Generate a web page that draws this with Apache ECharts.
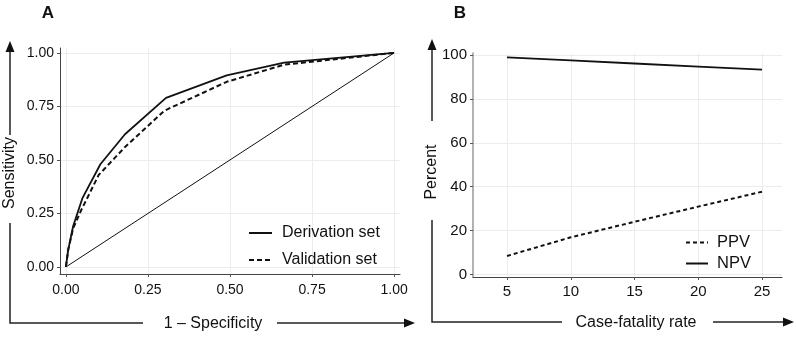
<!DOCTYPE html>
<html>
<head>
<meta charset="utf-8">
<script src="https://cdn.jsdelivr.net/npm/echarts@6/dist/echarts.min.js"></script>
<style>
  html, body { margin: 0; padding: 0; background: #fff; }
  #chart { width: 796px; height: 337px; }
</style>
</head>
<body>
<div id="chart"></div>
<script>
// panel A: ROC curves
const derivX = [0, 0.007, 0.022, 0.05, 0.105, 0.18, 0.305, 0.49, 0.665, 1];
const derivY = [0, 0.08, 0.19, 0.32, 0.48, 0.62, 0.79, 0.895, 0.955, 1];
const validX = [0, 0.007, 0.022, 0.045, 0.1, 0.18, 0.3, 0.49, 0.665, 1];
const validY = [0, 0.08, 0.18, 0.26, 0.43, 0.56, 0.73, 0.865, 0.945, 1];
const diagX = [0, 1];
const diagY = [0, 1];
const rocTicks = [0, 0.25, 0.5, 0.75, 1];

// panel B: predictive values by case-fatality rate
const cfr = [5, 10, 15, 20, 25];
const ppv = [8.4, 16.9, 24.0, 30.9, 37.7];
const npv = [99.0, 97.6, 96.2, 94.8, 93.4];
const cfrTicks = [5, 10, 15, 20, 25];
const pctTicks = [0, 20, 40, 60, 80, 100];

const FONT = 'Liberation Sans, Arial, sans-serif';
const ink = '#111';

function zip(xs, ys) {
  return xs.map(function (x, i) { return [x, ys[i]]; });
}

function fmt2(v) { return v.toFixed(2); }

function valueAxis(gridIndex, min, max, ticks, opts) {
  return Object.assign({
    type: 'value',
    gridIndex: gridIndex,
    min: min,
    max: max,
    axisLine: { show: true, onZero: false, lineStyle: { color: '#444', width: 1 } },
    axisTick: { show: true, length: 3, customValues: ticks, lineStyle: { color: '#555' } },
    axisLabel: { customValues: ticks, color: '#111', fontSize: 14, fontFamily: FONT, margin: 6 },
    splitLine: { show: true, lineStyle: { color: '#ececec', width: 1 } }
  }, opts || {});
}

// arrows along the outer axis titles
function arrowLine(points) {
  return { type: 'polyline', shape: { points: points }, style: { stroke: '#222', lineWidth: 1.5, fill: null }, silent: true };
}
function arrowHead(x, y, dir) {
  let pts;
  if (dir === 'up') pts = [[x, y], [x - 4.5, y + 11], [x + 4.5, y + 11]];
  else pts = [[x, y], [x - 11, y - 4.5], [x - 11, y + 4.5]];
  return { type: 'polygon', shape: { points: pts }, style: { fill: '#111' }, silent: true };
}
function label(text, x, y, rotate, size, weight) {
  return {
    type: 'text', x: x, y: y, rotation: rotate ? Math.PI / 2 : 0,
    style: { text: text, fill: '#111', font: (weight || 'normal') + ' ' + size + 'px ' + FONT, align: 'center', verticalAlign: 'middle' },
    silent: true
  };
}

const option = {
  animation: false,
  backgroundColor: '#fff',
  grid: [
    { left: 60, top: 48, width: 340, height: 226 },
    { left: 473, top: 53, width: 309, height: 224 }
  ],
  xAxis: [
    valueAxis(0, -0.018, 1.018, rocTicks, {
      axisLabel: { customValues: rocTicks, formatter: fmt2, color: '#111', fontSize: 14, fontFamily: FONT, margin: 9 }
    }),
    valueAxis(1, 2.33, 26.57, cfrTicks, {
      axisLabel: { customValues: cfrTicks, color: '#111', fontSize: 15, fontFamily: FONT, margin: 7 }
    })
  ],
  yAxis: [
    valueAxis(0, -0.033, 1.023, rocTicks, {
      axisLabel: { customValues: rocTicks, formatter: fmt2, color: '#111', fontSize: 14, fontFamily: FONT, margin: 6 }
    }),
    valueAxis(1, -1.2, 101, pctTicks, {
      axisLine: { show: true, onZero: false, lineStyle: { color: '#999', width: 1.5 } },
      axisLabel: { customValues: pctTicks, color: '#111', fontSize: 15, fontFamily: FONT, margin: 6 }
    })
  ],
  legend: [
    {
      left: 248, top: 225, padding: 0, orient: 'vertical', itemWidth: 23, itemHeight: 14, itemGap: 11,
      data: ['Derivation set', 'Validation set'],
      itemStyle: { opacity: 0 },
      textStyle: { fontSize: 16, fontFamily: FONT, color: '#111', padding: [0, 0, 0, 5] }
    },
    {
      left: 685, top: 234, padding: 0, orient: 'vertical', itemWidth: 22, itemHeight: 14, itemGap: 4,
      data: ['PPV', 'NPV'],
      itemStyle: { opacity: 0 },
      textStyle: { fontSize: 16.5, fontFamily: FONT, color: '#111', padding: [0, 0, 0, 4] }
    }
  ],
  series: [
    {
      name: 'Derivation set', type: 'line', xAxisIndex: 0, yAxisIndex: 0,
      data: zip(derivX, derivY), symbol: 'none', color: ink,
      lineStyle: { color: ink, width: 1.8 }
    },
    {
      name: 'Validation set', type: 'line', xAxisIndex: 0, yAxisIndex: 0,
      data: zip(validX, validY), symbol: 'none', color: ink,
      lineStyle: { color: ink, width: 2, type: [5, 3] }
    },
    {
      name: 'Reference', type: 'line', xAxisIndex: 0, yAxisIndex: 0,
      data: zip(diagX, diagY), symbol: 'none', color: ink,
      lineStyle: { color: ink, width: 1 }
    },
    {
      name: 'PPV', type: 'line', xAxisIndex: 1, yAxisIndex: 1,
      data: zip(cfr, ppv), symbol: 'none', color: ink,
      lineStyle: { color: ink, width: 2, type: [4, 3] }
    },
    {
      name: 'NPV', type: 'line', xAxisIndex: 1, yAxisIndex: 1,
      data: zip(cfr, npv), symbol: 'none', color: ink,
      lineStyle: { color: ink, width: 1.8 }
    }
  ],
  graphic: [
    label('A', 48, 13, false, 17, 'bold'),
    label('B', 460, 13, false, 17, 'bold'),
    // panel A outer axes
    arrowLine([[10, 50], [10, 135]]),
    arrowLine([[10, 223], [10, 323], [143, 323]]),
    arrowLine([[277, 323], [405, 323]]),
    arrowHead(10, 41, 'up'),
    arrowHead(415, 323, 'right'),
    label('Sensitivity', 10, 173, true, 16),
    label('1 \u2013 Specificity', 213, 324, false, 16),
    // panel B outer axes
    arrowLine([[432, 48], [432, 121]]),
    arrowLine([[432, 220], [432, 322], [562, 322]]),
    arrowLine([[713, 322], [784, 322]]),
    arrowHead(432, 39, 'up'),
    arrowHead(794, 322, 'right'),
    label('Percent', 432, 172, true, 16),
    label('Case-fatality rate', 636, 323, false, 16)
  ]
};

const myChart = echarts.init(document.getElementById('chart'), null, { renderer: 'canvas' });
myChart.setOption(option);
</script>
</body>
</html>
